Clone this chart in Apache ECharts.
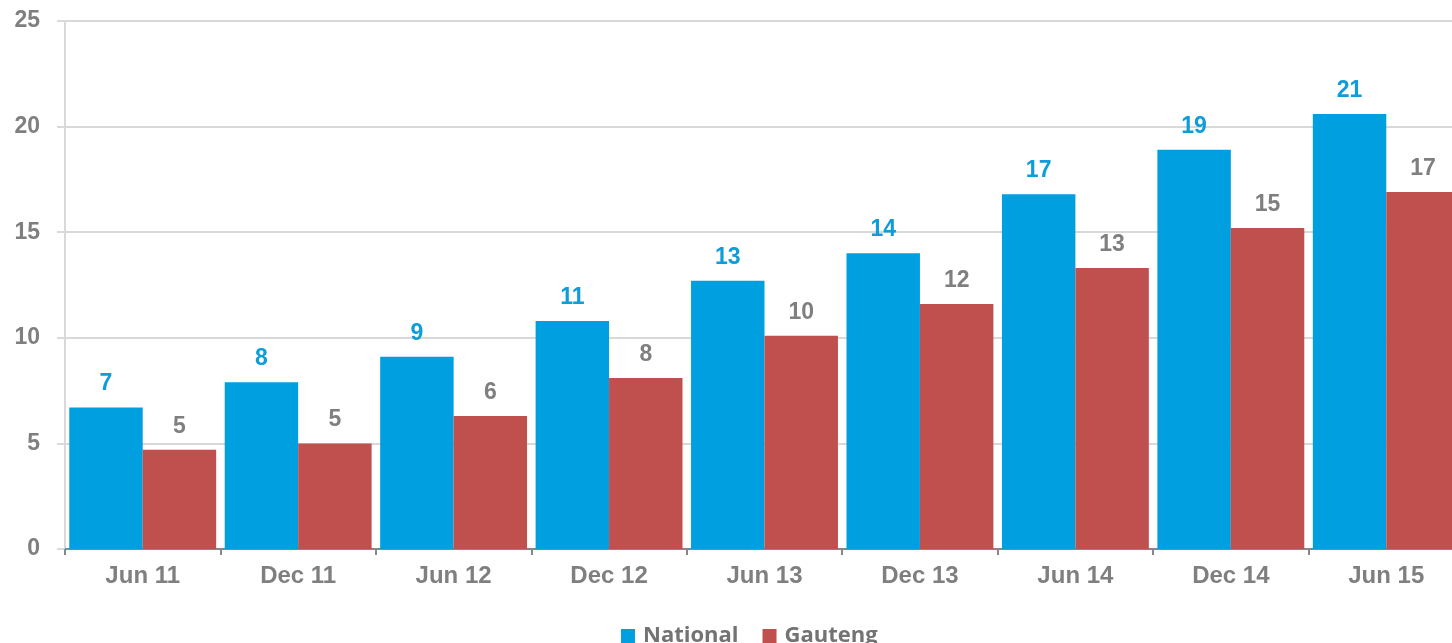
<!DOCTYPE html>
<html>
<head>
<meta charset="utf-8">
<script src="https://cdn.jsdelivr.net/npm/echarts@6/dist/echarts.min.js"></script>
<style>
html,body{margin:0;padding:0;background:#fff;overflow:hidden;}
#chart{width:1464px;height:643px;}
</style>
</head>
<body>
<div id="chart"></div>
<script>
var categories = ['Jun 11','Dec 11','Jun 12','Dec 12','Jun 13','Dec 13','Jun 14','Dec 14','Jun 15'];
var national = [6.7, 7.9, 9.1, 10.8, 12.7, 14.0, 16.8, 18.9, 20.6];
var gauteng = [4.7, 5.0, 6.3, 8.1, 10.1, 11.6, 13.3, 15.2, 16.9];
var yTicks = {min: 0, max: 25, interval: 5};

var chart = echarts.init(document.getElementById('chart'), null, {renderer: 'canvas'});
var axisFont = {fontFamily: '"Liberation Sans", Arial, sans-serif', fontWeight: 'bold', fontSize: 23, color: '#7f7f7f'};
chart.setOption({
  animation: false,
  backgroundColor: '#ffffff',
  grid: {left: 65, top: 21, right: 0, bottom: 94, containLabel: false},
  legend: {
    left: 616, top: 620,
    itemWidth: 14, itemHeight: 14, itemGap: 24,
    icon: 'rect',
    textStyle: {fontFamily: '"Open Sans", sans-serif', fontWeight: 'bold', fontSize: 22, color: '#737373', padding: [0,0,0,3]},
    data: ['National','Gauteng']
  },
  xAxis: {
    type: 'category',
    data: categories,
    axisLine: {lineStyle: {color: '#878787', width: 2}},
    axisTick: {show: true, length: 6, lineStyle: {color: '#878787', width: 2}},
    axisLabel: Object.assign({}, axisFont, {margin: 15, fontSize: 24}),
    splitLine: {show: false}
  },
  yAxis: {
    type: 'value',
    min: yTicks.min, max: yTicks.max, interval: yTicks.interval,
    axisLine: {show: true, lineStyle: {color: '#d9d9d9', width: 2}},
    axisTick: {show: true, length: 8, lineStyle: {color: '#d9d9d9', width: 2}},
    axisLabel: Object.assign({margin: 25}, axisFont),
    splitLine: {show: true, lineStyle: {color: '#d9d9d9', width: 2}}
  },
  series: [
    {
      name: 'National', type: 'bar', data: national,
      barGap: '0%', barCategoryGap: '5.5%',
      itemStyle: {color: '#009fe0'},
      label: {show: true, position: 'top', distance: 12, formatter: function(p){return Math.round(p.value);},
        fontFamily: '"Liberation Sans", Arial, sans-serif', fontWeight: 'bold', fontSize: 23, color: '#0e9dd8'}
    },
    {
      name: 'Gauteng', type: 'bar', data: gauteng,
      barGap: '0%', barCategoryGap: '5.5%',
      itemStyle: {color: '#c0504d'},
      label: {show: true, position: 'top', distance: 12, formatter: function(p){return Math.round(p.value);},
        fontFamily: '"Liberation Sans", Arial, sans-serif', fontWeight: 'bold', fontSize: 23, color: '#7f7f7f'}
    }
  ]
});
</script>
</body>
</html>
